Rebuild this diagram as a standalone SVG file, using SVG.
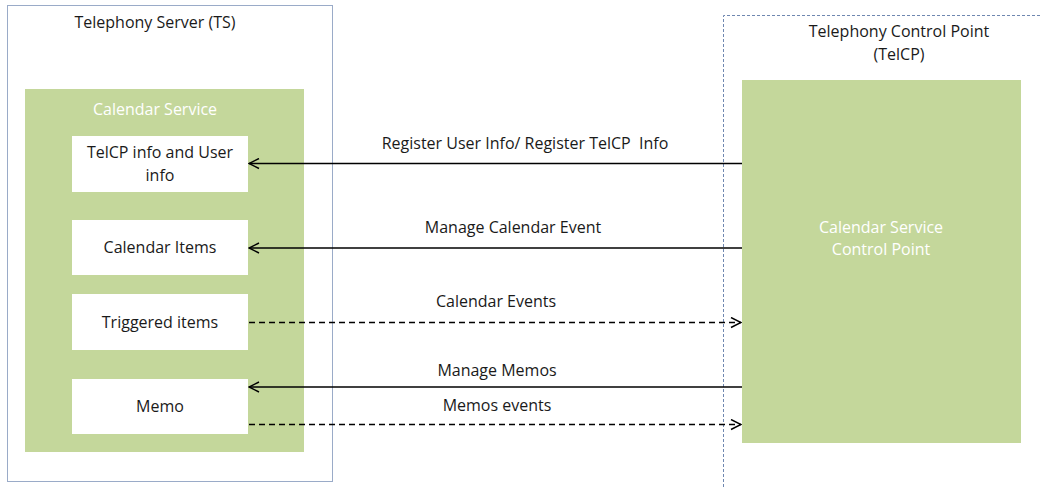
<svg xmlns="http://www.w3.org/2000/svg" width="1041" height="488" viewBox="0 0 1041 488">
<defs>
<style>
text{font-family:"Open Sans","Liberation Sans",sans-serif;font-size:16px;fill:#1a1a1a;text-anchor:middle}
.w{fill:#ffffff}
.green{fill:#c4d79b}
.box{fill:#ffffff}
.conn{stroke:#000;stroke-width:1.5;fill:none}
.dash{stroke-dasharray:6,4}
</style>
<marker id="ah" viewBox="0 0 12 12" refX="11" refY="6" markerWidth="12" markerHeight="12" markerUnits="userSpaceOnUse" orient="auto-start-reverse">
<path d="M1,1 L11,6 L1,11" fill="none" stroke="#000" stroke-width="1.5"/>
</marker>
</defs>
<rect width="1041" height="488" fill="#ffffff"/>
<g id="ts">
<rect x="7.5" y="5.5" width="325" height="476" fill="#ffffff" stroke="#9aabc8" stroke-width="1"/>
<text x="155" y="28">Telephony Server (TS)</text>
</g>
<g id="telcp-outer">
<path d="M723.5,487 V15.5 H1041" fill="none" stroke="#6f87b0" stroke-width="1" stroke-dasharray="3,2"/>
<text x="899" y="37">Telephony Control Point</text>
<text x="899" y="60">(TelCP)</text>
</g>
<g id="calendar-service">
<rect class="green" x="25" y="89" width="279" height="363"/>
<text class="w" x="155" y="115">Calendar Service</text>
</g>
<g id="telcp-info">
<rect class="box" x="72" y="136" width="176" height="56"/>
<text x="160" y="158">TelCP info and User</text>
<text x="160" y="181">info</text>
</g>
<g id="calendar-items">
<rect class="box" x="72" y="220" width="176" height="55"/>
<text x="160" y="253">Calendar Items</text>
</g>
<g id="triggered-items">
<rect class="box" x="72" y="294" width="176" height="56"/>
<text x="160" y="328">Triggered items</text>
</g>
<g id="memo">
<rect class="box" x="72" y="379" width="176" height="55"/>
<text x="160" y="412">Memo</text>
</g>
<g id="cs-control-point">
<rect class="green" x="742" y="80" width="279" height="363"/>
<text class="w" x="881" y="233">Calendar Service</text>
<text class="w" x="881" y="255">Control Point</text>
</g>
<g id="connectors">
<line class="conn" x1="742" y1="163.5" x2="249" y2="163.5" marker-end="url(#ah)"/>
<line class="conn" x1="742" y1="248" x2="249" y2="248" marker-end="url(#ah)"/>
<line class="conn dash" x1="249" y1="322.5" x2="741" y2="322.5" marker-end="url(#ah)"/>
<line class="conn" x1="742" y1="387" x2="249" y2="387" marker-end="url(#ah)"/>
<line class="conn dash" x1="249" y1="424.5" x2="741" y2="424.5" marker-end="url(#ah)"/>
<text x="525" y="149" xml:space="preserve">Register User Info/ Register TelCP  Info</text>
<text x="513" y="233">Manage Calendar Event</text>
<text x="496" y="307">Calendar Events</text>
<text x="497" y="376">Manage Memos</text>
<text x="497" y="411">Memos events</text>
</g>
</svg>
